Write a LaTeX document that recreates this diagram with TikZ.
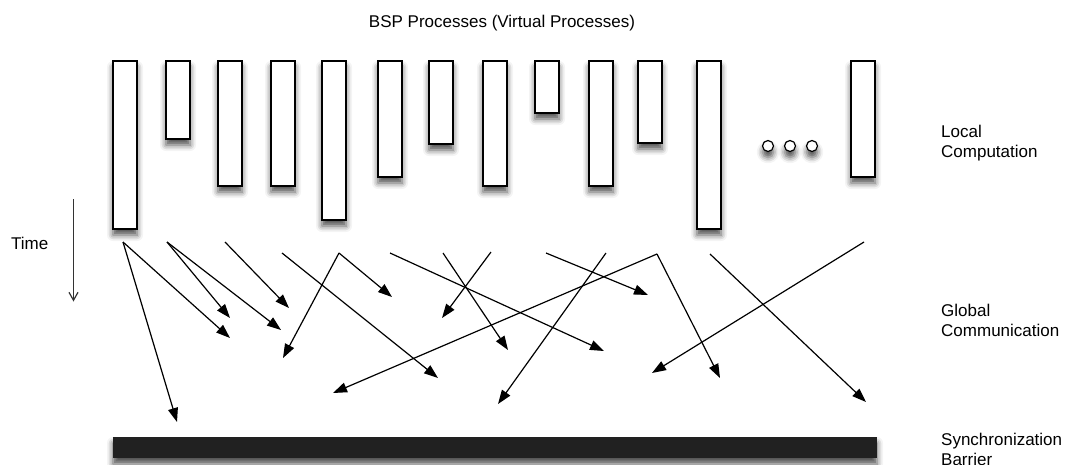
\documentclass[tikz,border=0pt]{standalone}
\usepackage{fontspec}
\setmainfont{Liberation Sans}
\usetikzlibrary{arrows.meta,shadows.blur}

\begin{document}
\begin{tikzpicture}[x=1pt,y=-1pt,
  softshadow/.style={blur shadow={shadow xshift=0pt, shadow yshift=-6pt,
      shadow blur radius=6pt, shadow opacity=70}},
  procbar/.style={draw=black, line width=1.3pt, fill=white, inner sep=0pt,
      outer sep=0pt, anchor=north west, minimum width=24pt, softshadow},
  moredot/.style={circle, draw=black, line width=1.2pt, fill=white,
      inner sep=0pt, minimum size=11pt, softshadow},
  barrier/.style={fill=black!87, inner sep=0pt, outer sep=0pt,
      anchor=north west, minimum width=764pt, minimum height=21pt, softshadow},
  msg/.style={line width=1.2pt, -{Triangle[length=14pt,width=10pt]}},
  timeline/.style={draw=black!80, line width=1.2pt,
      -{Straight Barb[length=8pt,width=9pt]}},
  label/.style={font=\fontsize{17}{20}\selectfont, inner sep=0pt, align=left},
]
\useasboundingbox (0,0) rectangle (1069,464);

% title
\node[label, anchor=base] (title) at (502,27) {BSP Processes (Virtual Processes)};

% virtual processes: local computation bars
\node[procbar, minimum height=168pt] (p1)  at (113,61) {};
\node[procbar, minimum height=78pt]  (p2)  at (166,61) {};
\node[procbar, minimum height=125pt] (p3)  at (218,61) {};
\node[procbar, minimum height=125pt] (p4)  at (271,61) {};
\node[procbar, minimum height=159pt] (p5)  at (322,61) {};
\node[procbar, minimum height=116pt] (p6)  at (378,61) {};
\node[procbar, minimum height=83pt]  (p7)  at (429,61) {};
\node[procbar, minimum height=125pt] (p8)  at (483,61) {};
\node[procbar, minimum height=52pt]  (p9)  at (535,61) {};
\node[procbar, minimum height=125pt] (p10) at (589,61) {};
\node[procbar, minimum height=82pt]  (p11) at (638,61) {};
\node[procbar, minimum height=168pt] (p12) at (697,61) {};
\node[procbar, minimum height=116pt] (p13) at (851,61) {};

% ellipsis dots
\node[moredot] (d1) at (768,146) {};
\node[moredot] (d2) at (790,146) {};
\node[moredot] (d3) at (812,146) {};

% synchronization barrier
\node[barrier] (sync) at (113,437) {};

% phase labels
\node[label, anchor=north west] (lc) at (941,124.8) {Local\\Computation};
\node[label, anchor=north west] (gc) at (941,304.3) {Global\\Communication};
\node[label, anchor=north west] (sb) at (941,433.3) {Synchronization\\Barrier};

% time axis
\node[label, anchor=base west] (time) at (11,249.3) {Time};
\coordinate (ttop) at (73.5,199);
\coordinate (tend) at (73.5,301.5);
\draw[timeline] (ttop) -- (tend);

% message sources
\coordinate (s1)  at (123,242);
\coordinate (s2)  at (167,242);
\coordinate (s3)  at (225,242);
\coordinate (s4)  at (282,253);
\coordinate (s5)  at (339,253);
\coordinate (s6)  at (390,253);
\coordinate (s7)  at (443,253);
\coordinate (s8)  at (491,252);
\coordinate (s9)  at (546,253);
\coordinate (s10) at (606,253);
\coordinate (s11) at (657,254);
\coordinate (s12) at (710,254);
\coordinate (s13) at (864,242);

% message destinations
\coordinate (t1)  at (177,422);
\coordinate (t2)  at (230,338);
\coordinate (t3)  at (230,318);
\coordinate (t4)  at (281,330);
\coordinate (t5)  at (289,308);
\coordinate (t6)  at (438,378);
\coordinate (t7)  at (283,358);
\coordinate (t8)  at (392,297);
\coordinate (t9)  at (604,351);
\coordinate (t10) at (333,393);
\coordinate (t11) at (720,378);
\coordinate (t12) at (508,350);
\coordinate (t13) at (442,318);
\coordinate (t14) at (648,295);
\coordinate (t15) at (498,404);
\coordinate (t16) at (652,373);
\coordinate (t17) at (866,402);

% global communication
\draw[msg] (s1)  -- (t1);
\draw[msg] (s1)  -- (t2);
\draw[msg] (s2)  -- (t3);
\draw[msg] (s2)  -- (t4);
\draw[msg] (s3)  -- (t5);
\draw[msg] (s4)  -- (t6);
\draw[msg] (s5)  -- (t7);
\draw[msg] (s5)  -- (t8);
\draw[msg] (s6)  -- (t9);
\draw[msg] (s11) -- (t10);
\draw[msg] (s11) -- (t11);
\draw[msg] (s7)  -- (t12);
\draw[msg] (s8)  -- (t13);
\draw[msg] (s9)  -- (t14);
\draw[msg] (s10) -- (t15);
\draw[msg] (s13) -- (t16);
\draw[msg] (s12) -- (t17);
\end{tikzpicture}
\end{document}
